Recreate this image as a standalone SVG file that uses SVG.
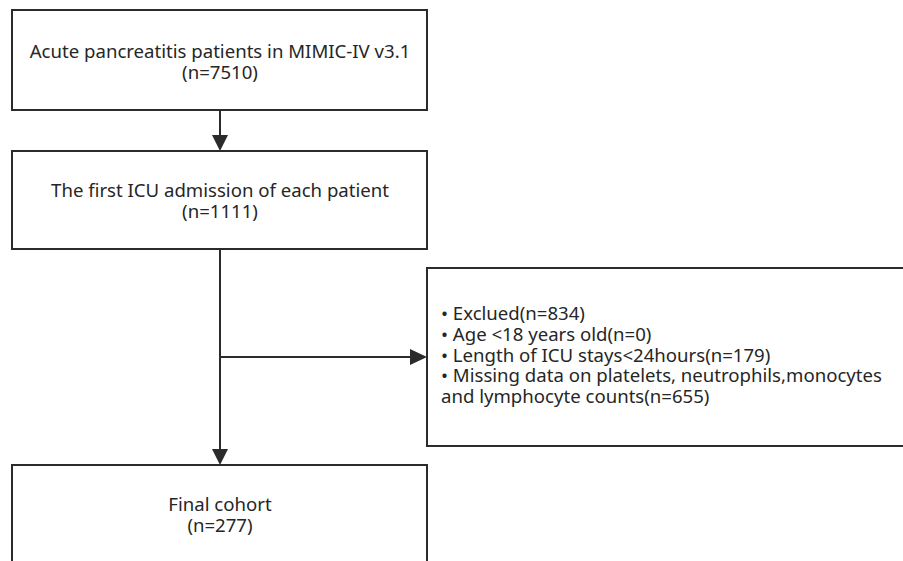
<svg xmlns="http://www.w3.org/2000/svg" width="903" height="561" viewBox="0 0 903 561">
<defs>
<style>
.box{fill:#fff;stroke:#2b2b2b;stroke-width:2}
.t{font-family:"Noto Sans","Open Sans","Liberation Sans",sans-serif;font-size:18.6px;fill:#262626}
.c{text-anchor:middle}
.ln{stroke:#2b2b2b;stroke-width:2;fill:none}
.ah{fill:#2b2b2b}
</style>
</defs>
<rect width="903" height="561" fill="#fff"/>
<g id="connectors">
<line class="ln" x1="220" y1="110" x2="220" y2="135"/>
<path class="ah" d="M212,135 L228,135 L220,151 Z"/>
<line class="ln" x1="220" y1="249" x2="220" y2="449"/>
<path class="ah" d="M212,449 L228,449 L220,465 Z"/>
<line class="ln" x1="220" y1="357" x2="410" y2="357"/>
<path class="ah" d="M410,349 L427,357 L410,365 Z"/>
</g>
<g id="node1">
<rect class="box" x="12" y="10" width="415" height="100"/>
<text class="t c"><tspan x="220" y="58">Acute pancreatitis patients in MIMIC-IV v3.1</tspan><tspan x="220" y="79">(n=7510)</tspan></text>
</g>
<g id="node2">
<rect class="box" x="12" y="151" width="415" height="98"/>
<text class="t c"><tspan x="220" y="197">The first ICU admission of each patient</tspan><tspan x="220" y="218">(n=1111)</tspan></text>
</g>
<g id="node3">
<rect class="box" x="427" y="268" width="490" height="178"/>
<text class="t"><tspan x="441" y="320">• Exclued(n=834)</tspan><tspan x="441" y="341">• Age &lt;18 years old(n=0)</tspan><tspan x="441" y="362">• Length of ICU stays&lt;24hours(n=179)</tspan><tspan x="441" y="382">• Missing data on platelets, neutrophils,monocytes</tspan><tspan x="441" y="403">and lymphocyte counts(n=655)</tspan></text>
</g>
<g id="node4">
<rect class="box" x="12" y="465" width="415" height="110"/>
<text class="t c"><tspan x="220" y="511">Final cohort</tspan><tspan x="220" y="532">(n=277)</tspan></text>
</g>
</svg>
